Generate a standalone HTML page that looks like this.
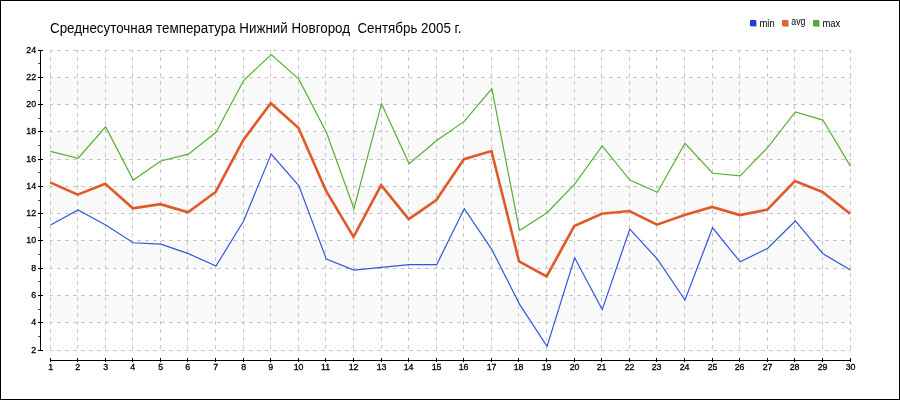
<!DOCTYPE html><html><head><meta charset="utf-8"><style>html,body{margin:0;padding:0;background:#fff;}svg{display:block;will-change:transform;}text{font-family:"Liberation Sans",sans-serif;}</style></head><body>
<svg width="900" height="400" viewBox="0 0 900 400">
<rect x="0" y="0" width="900" height="400" fill="#fff"/>
<rect x="50" y="78" width="800" height="26" fill="#f9f9f9"/>
<rect x="50" y="132" width="800" height="27" fill="#f9f9f9"/>
<rect x="50" y="187" width="800" height="26" fill="#f9f9f9"/>
<rect x="50" y="241" width="800" height="27" fill="#f9f9f9"/>
<rect x="50" y="296" width="800" height="26" fill="#f9f9f9"/>
<path d="M50 350.5H851M50 322.5H851M50 295.5H851M50 268.5H851M50 240.5H851M50 213.5H851M50 186.5H851M50 159.5H851M50 131.5H851M50 104.5H851M50 77.5H851M50 50.5H851M50.5 50V351M77.5 50V351M105.5 50V351M132.5 50V351M160.5 50V351M187.5 50V351M215.5 50V351M243.5 50V351M270.5 50V351M298.5 50V351M325.5 50V351M353.5 50V351M381.5 50V351M408.5 50V351M436.5 50V351M463.5 50V351M491.5 50V351M518.5 50V351M546.5 50V351M574.5 50V351M601.5 50V351M629.5 50V351M656.5 50V351M684.5 50V351M712.5 50V351M739.5 50V351M767.5 50V351M794.5 50V351M822.5 50V351M850.5 50V351" stroke="#c6c6c6" stroke-width="1" stroke-dasharray="4 4" stroke-dashoffset="1" fill="none" shape-rendering="crispEdges"/>
<path d="M40.5 50V351" stroke="#000" stroke-width="1" shape-rendering="crispEdges"/>
<path d="M38 350.5H43M38 322.5H43M38 295.5H43M38 268.5H43M38 240.5H43M38 213.5H43M38 186.5H43M38 159.5H43M38 131.5H43M38 104.5H43M38 77.5H43M38 50.5H43" stroke="#000" stroke-width="1" shape-rendering="crispEdges"/>
<path d="M38 336.5H40M38 309.5H40M38 281.5H40M38 254.5H40M38 227.5H40M38 200.5H40M38 172.5H40M38 145.5H40M38 118.5H40M38 90.5H40M38 63.5H40" stroke="#f00" stroke-width="1" shape-rendering="crispEdges"/>
<text transform="translate(36.2 353.0) scale(0.95 1)" font-size="9.3" text-anchor="end" fill="#000" stroke="#000" stroke-width="0.3">2</text>
<text transform="translate(36.2 325.0) scale(0.95 1)" font-size="9.3" text-anchor="end" fill="#000" stroke="#000" stroke-width="0.3">4</text>
<text transform="translate(36.2 298.0) scale(0.95 1)" font-size="9.3" text-anchor="end" fill="#000" stroke="#000" stroke-width="0.3">6</text>
<text transform="translate(36.2 271.0) scale(0.95 1)" font-size="9.3" text-anchor="end" fill="#000" stroke="#000" stroke-width="0.3">8</text>
<text transform="translate(36.2 243.0) scale(0.95 1)" font-size="9.3" text-anchor="end" fill="#000" stroke="#000" stroke-width="0.3">10</text>
<text transform="translate(36.2 216.0) scale(0.95 1)" font-size="9.3" text-anchor="end" fill="#000" stroke="#000" stroke-width="0.3">12</text>
<text transform="translate(36.2 189.0) scale(0.95 1)" font-size="9.3" text-anchor="end" fill="#000" stroke="#000" stroke-width="0.3">14</text>
<text transform="translate(36.2 162.0) scale(0.95 1)" font-size="9.3" text-anchor="end" fill="#000" stroke="#000" stroke-width="0.3">16</text>
<text transform="translate(36.2 134.0) scale(0.95 1)" font-size="9.3" text-anchor="end" fill="#000" stroke="#000" stroke-width="0.3">18</text>
<text transform="translate(36.2 107.0) scale(0.95 1)" font-size="9.3" text-anchor="end" fill="#000" stroke="#000" stroke-width="0.3">20</text>
<text transform="translate(36.2 80.0) scale(0.95 1)" font-size="9.3" text-anchor="end" fill="#000" stroke="#000" stroke-width="0.3">22</text>
<text transform="translate(36.2 53.0) scale(0.95 1)" font-size="9.3" text-anchor="end" fill="#000" stroke="#000" stroke-width="0.3">24</text>
<path d="M50 360.5H851" stroke="#000" stroke-width="1" shape-rendering="crispEdges"/>
<path d="M50.5 358V362M77.5 358V362M105.5 358V362M132.5 358V362M160.5 358V362M187.5 358V362M215.5 358V362M243.5 358V362M270.5 358V362M298.5 358V362M325.5 358V362M353.5 358V362M381.5 358V362M408.5 358V362M436.5 358V362M463.5 358V362M491.5 358V362M518.5 358V362M546.5 358V362M574.5 358V362M601.5 358V362M629.5 358V362M656.5 358V362M684.5 358V362M712.5 358V362M739.5 358V362M767.5 358V362M794.5 358V362M822.5 358V362M850.5 358V362" stroke="#000" stroke-width="1" shape-rendering="crispEdges"/>
<text transform="translate(50.6 370) scale(0.95 1)" font-size="9.3" text-anchor="middle" fill="#000" stroke="#000" stroke-width="0.3">1</text>
<text transform="translate(77.6 370) scale(0.95 1)" font-size="9.3" text-anchor="middle" fill="#000" stroke="#000" stroke-width="0.3">2</text>
<text transform="translate(105.6 370) scale(0.95 1)" font-size="9.3" text-anchor="middle" fill="#000" stroke="#000" stroke-width="0.3">3</text>
<text transform="translate(132.6 370) scale(0.95 1)" font-size="9.3" text-anchor="middle" fill="#000" stroke="#000" stroke-width="0.3">4</text>
<text transform="translate(160.6 370) scale(0.95 1)" font-size="9.3" text-anchor="middle" fill="#000" stroke="#000" stroke-width="0.3">5</text>
<text transform="translate(187.6 370) scale(0.95 1)" font-size="9.3" text-anchor="middle" fill="#000" stroke="#000" stroke-width="0.3">6</text>
<text transform="translate(215.6 370) scale(0.95 1)" font-size="9.3" text-anchor="middle" fill="#000" stroke="#000" stroke-width="0.3">7</text>
<text transform="translate(243.6 370) scale(0.95 1)" font-size="9.3" text-anchor="middle" fill="#000" stroke="#000" stroke-width="0.3">8</text>
<text transform="translate(270.6 370) scale(0.95 1)" font-size="9.3" text-anchor="middle" fill="#000" stroke="#000" stroke-width="0.3">9</text>
<text transform="translate(298.6 370) scale(0.95 1)" font-size="9.3" text-anchor="middle" fill="#000" stroke="#000" stroke-width="0.3">10</text>
<text transform="translate(325.6 370) scale(0.95 1)" font-size="9.3" text-anchor="middle" fill="#000" stroke="#000" stroke-width="0.3">11</text>
<text transform="translate(353.6 370) scale(0.95 1)" font-size="9.3" text-anchor="middle" fill="#000" stroke="#000" stroke-width="0.3">12</text>
<text transform="translate(381.6 370) scale(0.95 1)" font-size="9.3" text-anchor="middle" fill="#000" stroke="#000" stroke-width="0.3">13</text>
<text transform="translate(408.6 370) scale(0.95 1)" font-size="9.3" text-anchor="middle" fill="#000" stroke="#000" stroke-width="0.3">14</text>
<text transform="translate(436.6 370) scale(0.95 1)" font-size="9.3" text-anchor="middle" fill="#000" stroke="#000" stroke-width="0.3">15</text>
<text transform="translate(463.6 370) scale(0.95 1)" font-size="9.3" text-anchor="middle" fill="#000" stroke="#000" stroke-width="0.3">16</text>
<text transform="translate(491.6 370) scale(0.95 1)" font-size="9.3" text-anchor="middle" fill="#000" stroke="#000" stroke-width="0.3">17</text>
<text transform="translate(518.6 370) scale(0.95 1)" font-size="9.3" text-anchor="middle" fill="#000" stroke="#000" stroke-width="0.3">18</text>
<text transform="translate(546.6 370) scale(0.95 1)" font-size="9.3" text-anchor="middle" fill="#000" stroke="#000" stroke-width="0.3">19</text>
<text transform="translate(574.6 370) scale(0.95 1)" font-size="9.3" text-anchor="middle" fill="#000" stroke="#000" stroke-width="0.3">20</text>
<text transform="translate(601.6 370) scale(0.95 1)" font-size="9.3" text-anchor="middle" fill="#000" stroke="#000" stroke-width="0.3">21</text>
<text transform="translate(629.6 370) scale(0.95 1)" font-size="9.3" text-anchor="middle" fill="#000" stroke="#000" stroke-width="0.3">22</text>
<text transform="translate(656.6 370) scale(0.95 1)" font-size="9.3" text-anchor="middle" fill="#000" stroke="#000" stroke-width="0.3">23</text>
<text transform="translate(684.6 370) scale(0.95 1)" font-size="9.3" text-anchor="middle" fill="#000" stroke="#000" stroke-width="0.3">24</text>
<text transform="translate(712.6 370) scale(0.95 1)" font-size="9.3" text-anchor="middle" fill="#000" stroke="#000" stroke-width="0.3">25</text>
<text transform="translate(739.6 370) scale(0.95 1)" font-size="9.3" text-anchor="middle" fill="#000" stroke="#000" stroke-width="0.3">26</text>
<text transform="translate(767.6 370) scale(0.95 1)" font-size="9.3" text-anchor="middle" fill="#000" stroke="#000" stroke-width="0.3">27</text>
<text transform="translate(794.6 370) scale(0.95 1)" font-size="9.3" text-anchor="middle" fill="#000" stroke="#000" stroke-width="0.3">28</text>
<text transform="translate(822.6 370) scale(0.95 1)" font-size="9.3" text-anchor="middle" fill="#000" stroke="#000" stroke-width="0.3">29</text>
<text transform="translate(850.6 370) scale(0.95 1)" font-size="9.3" text-anchor="middle" fill="#000" stroke="#000" stroke-width="0.3">30</text>
<polyline points="50.50,225.05 78.09,210.05 105.67,225.05 133.26,242.77 160.84,244.14 188.43,253.68 216.02,265.95 243.60,220.95 271.19,154.14 298.78,185.50 326.36,259.14 353.95,270.05 381.53,267.32 409.12,264.59 436.71,264.59 464.29,208.68 491.88,249.59 519.47,304.14 547.05,346.41 574.64,257.77 602.22,309.59 629.81,229.14 657.40,259.14 684.98,300.05 712.57,227.77 740.16,261.86 767.74,248.23 795.33,220.95 822.91,253.68 850.50,270.05" fill="none" stroke="#2f56e0" stroke-width="1.2" stroke-linejoin="miter"/>
<polyline points="50.50,151.41 78.09,158.23 105.67,126.86 133.26,180.05 160.84,160.95 188.43,154.14 216.02,132.32 243.60,80.50 271.19,54.59 298.78,79.14 326.36,132.32 353.95,208.68 381.53,103.68 409.12,163.68 436.71,140.50 464.29,121.41 491.88,88.68 519.47,230.50 547.05,212.77 574.64,184.14 602.22,145.95 629.81,180.05 657.40,192.32 684.98,143.23 712.57,173.23 740.16,175.95 767.74,147.32 795.33,111.86 822.91,120.05 850.50,166.41" fill="none" stroke="#55b032" stroke-width="1.2" stroke-linejoin="miter"/>
<polyline points="50.10,182.37 77.69,194.65 105.27,183.74 132.86,208.28 160.44,204.19 188.03,212.37 215.62,191.92 243.20,140.10 270.79,103.28 298.38,127.83 325.96,190.55 353.55,236.92 381.13,185.10 408.72,219.19 436.31,200.10 463.89,159.19 491.48,151.01 519.07,261.46 546.65,276.46 574.24,226.01 601.82,213.74 629.41,211.01 657.00,224.65 684.58,215.10 712.17,206.92 739.76,215.10 767.34,209.65 794.93,181.01 822.51,191.92 850.10,213.74" fill="none" stroke="#e05a28" stroke-width="2.6" stroke-linejoin="miter"/>
<text x="50" y="32.8" font-size="14" textLength="411.5" lengthAdjust="spacingAndGlyphs" fill="#000">Среднесуточная температура Нижний Новгород&#160; Сентябрь 2005 г.</text>
<rect x="751" y="21" width="6" height="6" fill="#bbb"/>
<rect x="750" y="20" width="6" height="6" fill="#1f3fe0"/>
<text x="759.5" y="26.7" font-size="10.5" textLength="15.2" lengthAdjust="spacingAndGlyphs" fill="#000">min</text>
<rect x="783" y="21" width="6" height="6" fill="#bbb"/>
<rect x="782" y="20" width="6" height="6" fill="#e5622e"/>
<text x="791.3" y="24.8" font-size="10.5" textLength="14.2" lengthAdjust="spacingAndGlyphs" fill="#000">avg</text>
<rect x="814" y="21" width="6" height="6" fill="#bbb"/>
<rect x="813" y="20" width="6" height="6" fill="#4cae2a"/>
<text x="822.5" y="26.7" font-size="10.5" textLength="17.8" lengthAdjust="spacingAndGlyphs" fill="#000">max</text>
<rect x="0.5" y="0.5" width="899" height="399" fill="none" stroke="#000" stroke-width="1"/>
</svg></body></html>
